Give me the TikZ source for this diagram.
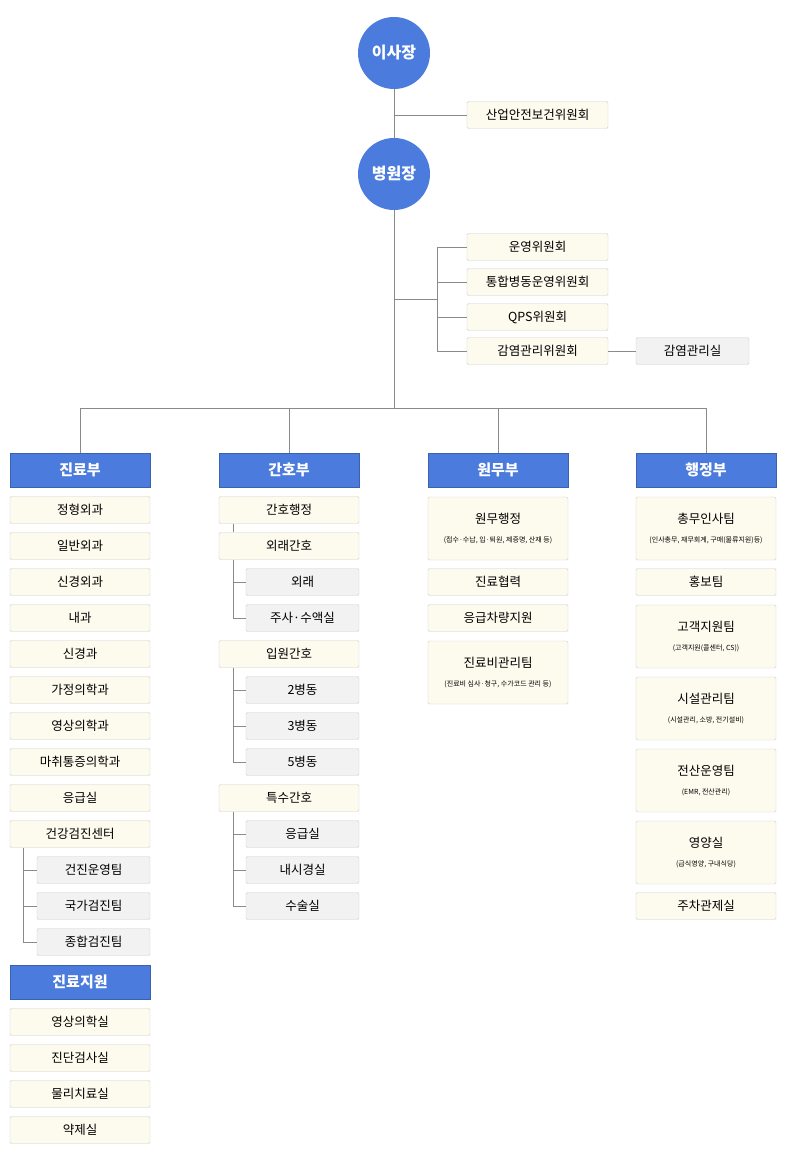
\documentclass[tikz,border=0pt]{standalone}
\usepackage{fontspec}
\setmainfont{Noto Sans CJK KR}
\usetikzlibrary{positioning}
\definecolor{headblue}{HTML}{4A7BDD}
\definecolor{itemfill}{HTML}{FDFBEE}
\definecolor{subfill}{HTML}{F2F2F2}
\definecolor{boxline}{HTML}{CFCFCF}
\definecolor{linkgray}{HTML}{8A8A8A}
\tikzset{
  chief/.style={circle,fill=headblue,text=white,minimum size=72pt,inner sep=0pt,font=\fontsize{16}{18}\selectfont\bfseries},
  dept/.style={rectangle,fill=headblue,draw=headblue!80!black,text=white,minimum width=140pt,minimum height=34pt,inner sep=0pt,font=\fontsize{15}{17}\selectfont\bfseries},
  item/.style={rectangle,rounded corners=1.5pt,fill=itemfill,draw=boxline,minimum width=140pt,minimum height=27pt,inner sep=0pt,font=\fontsize{12.5}{14}\selectfont},
  subitem/.style={item,fill=subfill,minimum width=113pt},
  tallitem/.style={item,minimum height=63pt,align=center},
  link/.style={draw=linkgray,line width=0.8pt}
}
\newcommand{\twoline}[2]{#1\\[5pt]{\fontsize{7}{8}\selectfont #2}}
\begin{document}
\begin{tikzpicture}[x=1pt,y=-1pt]
\useasboundingbox[fill=white] (0,0) rectangle (788,1166);
% top
\node[chief] (chair) at (394,53) {이사장};
\node[chief] (director) at (394,174) {병원장};
\node[item,minimum width=141pt] (safety) at (537.5,115) {산업안전보건위원회};
\draw[link] (chair) -- (director);
\draw[link] (394,115) -- (safety.west);
% committees
\node[item,minimum width=141pt] (cm1) at (537.5,247) {운영위원회};
\node[item,minimum width=141pt] (cm2) at (537.5,282) {통합병동운영위원회};
\node[item,minimum width=141pt] (cm3) at (537.5,317) {QPS위원회};
\node[item,minimum width=141pt] (cm4) at (537.5,351) {감염관리위원회};
\node[subitem] (infect) at (692.5,351) {감염관리실};
\draw[link] (cm1.west) -| (437,351) -- (cm4.west);
\draw[link] (cm2.west) -- (437,282) (cm3.west) -- (437,317);
\draw[link] (394,299) -- (437,299);
\draw[link] (cm4) -- (infect);
% departments
\node[dept] (medical) at (80,470) {진료부};
\node[dept] (nursing) at (289,470) {간호부};
\node[dept] (admin) at (498,470) {원무부};
\node[dept] (general) at (706,470) {행정부};
\draw[link] (director) -- (394,408);
\draw[link] (80,408) -- (706,408);
\foreach \d in {medical,nursing,admin,general}
  \draw[link] (\d.north |- 0,408) -- (\d.north);
% 진료부
\foreach \t [count=\i] in {정형외과,일반외과,신경외과,내과,신경과,가정의학과,영상의학과,마취통증의학과,응급실,건강검진센터}
  \node[item] (md\i) at (80,474+36*\i) {\t};
\foreach \t [count=\i] in {건진운영팀,국가검진팀,종합검진팀}
  \node[subitem] (hc\i) at (93.5,834+36*\i) {\t};
\draw[link] (23,848) -- (23,942) -- (hc3.west);
\draw[link] (23,870) -- (hc1.west) (23,906) -- (hc2.west);
\node[dept] (support) at (80,982) {진료지원};
\foreach \t [count=\i] in {영상의학실,진단검사실,물리치료실,약제실}
  \node[item] (sp\i) at (80,986+36*\i) {\t};
% 간호부
\node[item] (ns1) at (289,510) {간호행정};
\node[item] (ns2) at (289,546) {외래간호};
\node[subitem] (ns21) at (302.5,582) {외래};
\node[subitem] (ns22) at (302.5,618) {주사·수액실};
\node[item] (ns3) at (289,654) {입원간호};
\node[subitem] (ns31) at (302.5,690) {2병동};
\node[subitem] (ns32) at (302.5,726) {3병동};
\node[subitem] (ns33) at (302.5,762) {5병동};
\node[item] (ns4) at (289,798) {특수간호};
\node[subitem] (ns41) at (302.5,834) {응급실};
\node[subitem] (ns42) at (302.5,870) {내시경실};
\node[subitem] (ns43) at (302.5,906) {수술실};
\draw[link] (ns1.south -| 233,0) -- (ns2.north -| 233,0);
\draw[link] (ns2.south -| 233,0) |- (ns22.west) (233,582) -- (ns21.west);
\draw[link] (ns3.south -| 233,0) |- (ns33.west) (233,690) -- (ns31.west) (233,726) -- (ns32.west);
\draw[link] (ns4.south -| 233,0) |- (ns43.west) (233,834) -- (ns41.west) (233,870) -- (ns42.west);
% 원무부
\node[tallitem] (ad1) at (498,528.5) {\twoline{원무행정}{(접수·수납, 입·퇴원, 제증명, 산재 등)}};
\node[item] (ad2) at (498,582) {진료협력};
\node[item] (ad3) at (498,618) {응급차량지원};
\node[tallitem] (ad4) at (498,672.5) {\twoline{진료비관리팀}{(진료비 심사·청구, 수가코드 관리 등)}};
% 행정부
\node[tallitem] (gn1) at (706,528.5) {\twoline{총무인사팀}{(인사총무, 재무회계, 구매(물류지원)등)}};
\node[item] (gn2) at (706,582) {홍보팀};
\node[tallitem] (gn3) at (706,636.5) {\twoline{고객지원팀}{(고객지원(콜센터, CS))}};
\node[tallitem] (gn4) at (706,708.5) {\twoline{시설관리팀}{(시설관리, 소방, 전기설비)}};
\node[tallitem] (gn5) at (706,780.5) {\twoline{전산운영팀}{(EMR, 전산관리)}};
\node[tallitem] (gn6) at (706,852.5) {\twoline{영양실}{(급식영양, 구내식당)}};
\node[item] (gn7) at (706,906) {주차관제실};
\end{tikzpicture}
\end{document}
